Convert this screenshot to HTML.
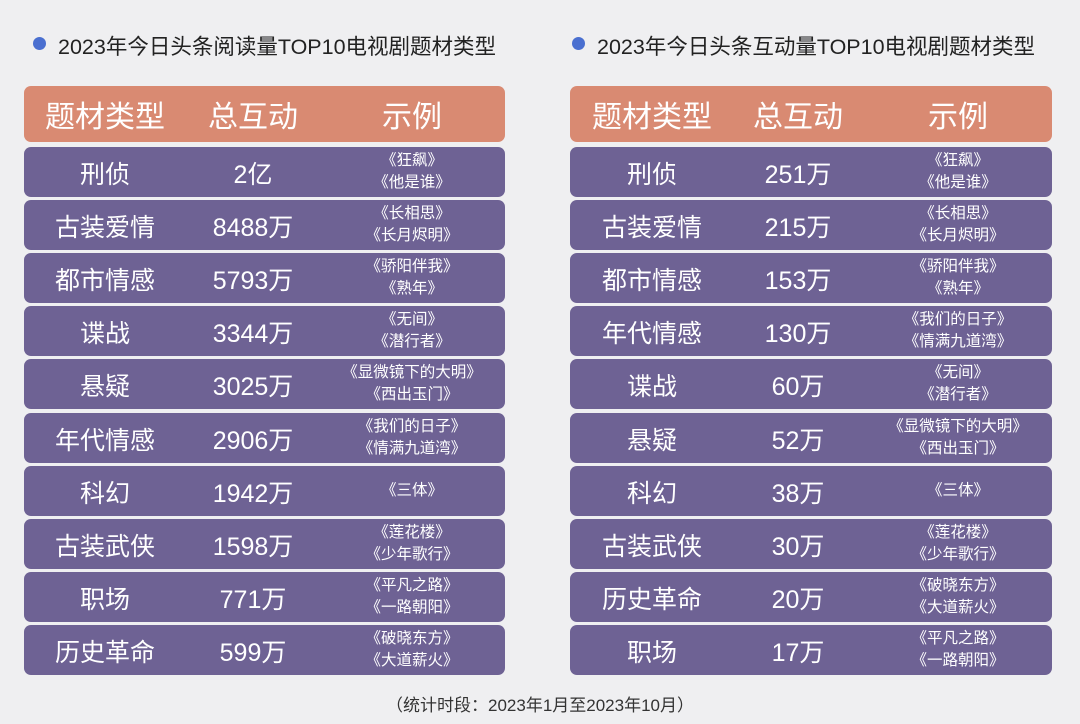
<!DOCTYPE html>
<html><head><meta charset="utf-8">
<style>
body{margin:0;width:1080px;height:724px;background:#efeff1;position:relative;overflow:hidden;font-family:"Liberation Sans","Noto Sans CJK SC",sans-serif;}
.t{position:absolute;top:30px;font-size:21.5px;color:#222;white-space:nowrap}
.dot{position:absolute;top:37px;width:13px;height:13px;border-radius:50%;background:#4a6fd0}
.hd,.row{position:absolute;border-radius:7px;color:#fff}
.hd{background:#d98a72;font-size:30px}
.row{background:#6e6294}
.c{position:absolute;top:0;bottom:0;display:flex;align-items:center;justify-content:center;text-align:center;transform:translateX(-50%);white-space:nowrap}
.m{font-size:25px;padding-top:2px}
.e{font-size:15.5px;line-height:22px}
.foot{position:absolute;top:691px;left:0;width:1080px;text-align:center;font-size:17px;color:#333}
</style></head><body>
<div class="dot" style="left:33px"></div>
<div class="t" style="left:58px">2023年今日头条阅读量TOP10电视剧题材类型</div>
<div class="dot" style="left:572px"></div>
<div class="t" style="left:597px">2023年今日头条互动量TOP10电视剧题材类型</div>
<div class="foot">（统计时段：2023年1月至2023年10月）</div>
<script>
const leftTypes=["刑侦","古装爱情","都市情感","谍战","悬疑","年代情感","科幻","古装武侠","职场","历史革命"];
const leftVals=["2亿","8488万","5793万","3344万","3025万","2906万","1942万","1598万","771万","599万"];
const leftEx=[["《狂飙》","《他是谁》"],["《长相思》","《长月烬明》"],["《骄阳伴我》","《熟年》"],["《无间》","《潜行者》"],["《显微镜下的大明》","《西出玉门》"],["《我们的日子》","《情满九道湾》"],["《三体》"],["《莲花楼》","《少年歌行》"],["《平凡之路》","《一路朝阳》"],["《破晓东方》","《大道薪火》"]];
const rightTypes=["刑侦","古装爱情","都市情感","年代情感","谍战","悬疑","科幻","古装武侠","历史革命","职场"];
const rightVals=["251万","215万","153万","130万","60万","52万","38万","30万","20万","17万"];
const rightEx=[["《狂飙》","《他是谁》"],["《长相思》","《长月烬明》"],["《骄阳伴我》","《熟年》"],["《我们的日子》","《情满九道湾》"],["《无间》","《潜行者》"],["《显微镜下的大明》","《西出玉门》"],["《三体》"],["《莲花楼》","《少年歌行》"],["《破晓东方》","《大道薪火》"],["《平凡之路》","《一路朝阳》"]];
const heads=["题材类型","总互动","示例"];
function mk(cls,l,t,w,h,name){const d=document.createElement('div');d.className=cls;
d.style.cssText=`left:${l}px;top:${t}px;width:${w}px;height:${h}px`;


document.body.appendChild(d);return d;}
function cell(p,cls,x,html,name){const c=document.createElement('div');c.className='c '+cls;c.style.left=x+'px';c.innerHTML=html;


p.appendChild(c);}
function table(side,L,W,cols,types,vals,ex){
 const h=mk('hd',L,86,W,56,side+'-header');
 heads.forEach((t,i)=>cell(h,'',cols[i],t,side+'-header-cell'));
 types.forEach((t,i)=>{const top=147+i*53.1;
  const r=mk('row',L,Math.round(top),W,50,side+'-row');
  cell(r,'m',cols[0],t,side+'-type');
  cell(r,'m',cols[1],vals[i],side+'-value');
  cell(r,'e',cols[2],ex[i].join('<br>'),side+'-examples');});
}
table('left',24,481,[81,229,388],leftTypes,leftVals,leftEx);
table('right',570,482,[82,228,388],rightTypes,rightVals,rightEx);
</script>
</body></html>
